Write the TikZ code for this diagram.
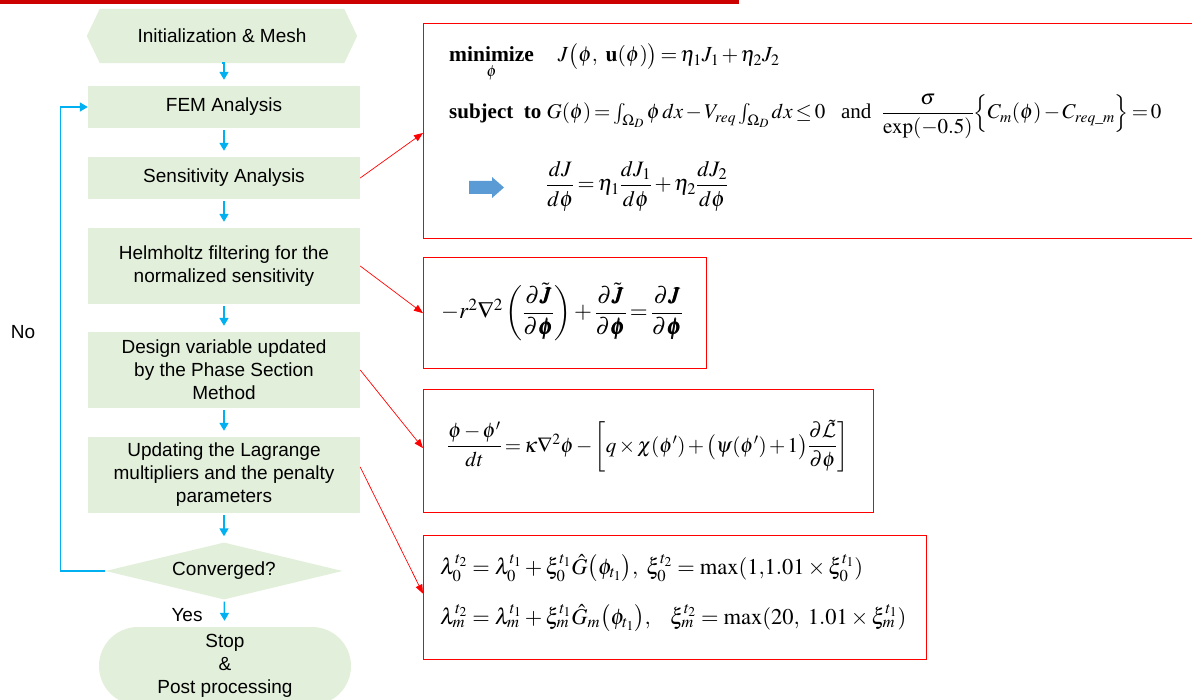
\documentclass[tikz,border=0pt]{standalone}
\usepackage{amsmath}
\usepackage{mathptmx}
\usepackage{bm}
\DeclareMathAlphabet{\mathcal}{OMS}{cmsy}{m}{n}
\usepackage[no-math]{fontspec}
\setmainfont{Liberation Serif}
\setsansfont{Liberation Sans}
\usetikzlibrary{arrows.meta,positioning,shapes.geometric,shapes.misc,calc,backgrounds}
\definecolor{stepgreen}{HTML}{E2EFDA}
\definecolor{flowblue}{HTML}{00B0F0}
\definecolor{barred}{HTML}{CC0000}
\definecolor{iconblue}{HTML}{5B9BD5}
\newcommand{\tightmath}{\medmuskip=2mu\thickmuskip=2.5mu}

\begin{document}
\begin{tikzpicture}[x=1pt,y=-1pt,
    font=\sffamily\fontsize{19}{23}\selectfont,
    stepbox/.style={fill=stepgreen,minimum width=272pt,align=center,inner sep=0pt},
    flow/.style={-{Triangle[width=9pt,length=8pt]},flowblue,line width=1.5pt,shorten <=2pt,shorten >=6pt},
    eqbox/.style={draw=red,line width=1.3pt,anchor=north west,inner sep=0pt},
    link/.style={-{Triangle[width=7pt,length=9pt]},red,line width=0.7pt},
    eq/.style={font=\rmfamily\fontsize{22}{26}\selectfont\tightmath,anchor=west,inner sep=0pt}]
    \useasboundingbox (0,0) rectangle (1192,700);
    \fill[barred] (0,0) rectangle (739,4);

    % flow chart
    \node[stepbox,fill=none,minimum width=270pt,minimum height=54pt] (init) at (222,36) {Initialization \& Mesh};
    \begin{scope}[on background layer]
      \fill[stepgreen] (init.west) -- ($(init.north west)+(13,0)$) -- ($(init.north east)+(-13,0)$)
        -- (init.east) -- ($(init.south east)+(-13,0)$) -- ($(init.south west)+(13,0)$) -- cycle;
    \end{scope}
    \node[stepbox,minimum height=42pt] (fem) at (224,107) {FEM Analysis};
    \node[stepbox,minimum height=42pt] (sens) at (224,178) {Sensitivity Analysis};
    \node[stepbox,minimum height=76pt] (helm) at (224,266) {Helmholtz filtering for the\\normalized sensitivity};
    \node[stepbox,minimum height=76pt] (design) at (224,370) {Design variable updated\\by the Phase Section\\Method};
    \node[stepbox,minimum height=76pt] (update) at (224,475) {Updating the Lagrange\\multipliers and the penalty\\parameters};
    \node[diamond,aspect=4.16,fill=stepgreen,minimum width=237pt,minimum height=57pt,inner sep=0pt] (conv) at (224,571) {Converged?};
    \node[rounded rectangle,fill=stepgreen,minimum width=252pt,minimum height=78pt,align=center,inner sep=0pt] (stop) at (225,666) {Stop\\\&\\Post processing};

    \draw[flow,shorten <=0pt] (init.south) -- (init.south -| fem.north) -- (fem.north);
    \draw[flow] (fem) -- (sens);
    \draw[flow] (sens) -- (helm);
    \draw[flow] (helm) -- (design);
    \draw[flow] (design) -- (update);
    \draw[flow] (update) -- (conv);
    \draw[flow] (conv) -- (stop);
    \draw[flow,shorten <=0pt,shorten >=0pt] (conv.west) -- ++(-45,0) |- (fem.west);
    \node (no) at (23,332) {No};
    \node (yes) at (187,615) {Yes};

    % equation boxes
    \node[eqbox,minimum width=790pt,minimum height=215pt] (optbox) at (423,23) {};
    \node[eqbox,minimum width=283pt,minimum height=111pt] (filterbox) at (423,257) {};
    \node[eqbox,minimum width=450pt,minimum height=123pt] (pfmbox) at (423,389) {};
    \node[eqbox,minimum width=503pt,minimum height=124pt] (lagbox) at (423,535) {};

    \node[eq,anchor=base west,font=\rmfamily\fontsize{21.5}{26}\selectfont\tightmath] (objective) at (449,62)
      {$\mathop{\textbf{minimize}}\limits_{\phi}\quad J\bigl(\phi,\ \mathbf{u}(\phi)\bigr)=\eta_1J_1+\eta_2J_2$};
    \node[eq,anchor=base west,font=\rmfamily\fontsize{21}{26}\selectfont\tightmath] (constraint) at (449,119)
      {$\textbf{subject\ \ to}\ G(\phi)=\int_{\Omega_D}\phi\,dx-V_{req}\int_{\Omega_D}dx\le 0\ \ \ \text{and}\ \ 
        \dfrac{\sigma}{\exp(-0.5)}\Bigl\{C_m(\phi)-C_{req\_m}\Bigr\}=0$};
    \fill[iconblue] (469,181) -- (492,181) -- (492,177) -- (504,187.5) -- (492,198) -- (492,194) -- (469,194) -- cycle;
    \node[eq] (gradient) at (546,186)
      {$\dfrac{dJ}{d\phi}=\eta_1\dfrac{dJ_1}{d\phi}+\eta_2\dfrac{dJ_2}{d\phi}$};

    \node[eq,font=\rmfamily\fontsize{23}{27}\selectfont\tightmath] (filter) at (441,312)
      {$-r^2\nabla^2\left(\dfrac{\partial\tilde{\bm J}}{\partial\bm\phi}\right)+\dfrac{\partial\tilde{\bm J}}{\partial\bm\phi}=\dfrac{\partial\bm J}{\partial\bm\phi}$};
    \node[eq,font=\rmfamily\fontsize{21}{25}\selectfont\tightmath] (pfm) at (447,446)
      {$\dfrac{\phi-\phi'}{dt}=\kappa\nabla^2\phi-\left[q\times\chi(\phi')+\bigl(\psi(\phi')+1\bigr)\dfrac{\partial\tilde{\mathcal{L}}}{\partial\phi}\right]$};
    \node[eq,font=\rmfamily\fontsize{22.5}{27}\selectfont] (lagzero) at (440,568)
      {$\lambda_0^{t_2}=\lambda_0^{t_1}+\xi_0^{t_1}\hat{G}\bigl(\phi_{t_1}\bigr),\ \xi_0^{t_2}=\max(1{,}1.01\times\xi_0^{t_1})$};
    \node[eq,font=\rmfamily\fontsize{22.5}{27}\selectfont] (lagm) at (440,618)
      {$\lambda_m^{t_2}=\lambda_m^{t_1}+\xi_m^{t_1}\hat{G}_m\bigl(\phi_{t_1}\bigr),\ \ \ \xi_m^{t_2}=\max(20,\ 1.01\times\xi_m^{t_1})$};

    \draw[link] (sens.east) -- ($(optbox.north west)+(0,110)$);
    \draw[link] (helm.east) -- (filterbox.west);
    \draw[link] (design.east) -- ($(pfmbox.west)+(0,-3)$);
    \draw[link] ($(update.east)+(0,-8)$) -- ($(lagbox.west)+(0,-4)$);
  \end{tikzpicture}
\end{document}
